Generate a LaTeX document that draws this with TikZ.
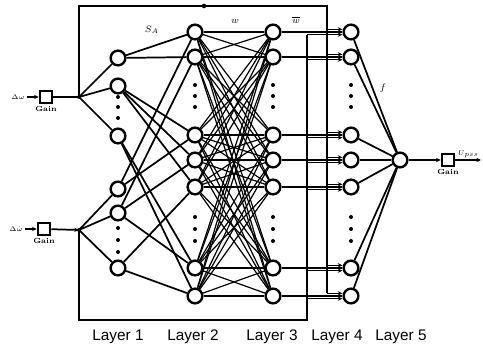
\documentclass[tikz,border=0pt]{standalone}
\usepackage{fontspec}
\setsansfont{Liberation Sans}
\usetikzlibrary{arrows.meta}
\begin{document}
\begin{tikzpicture}[x = 0.75pt, y = -0.75pt, line width = 1.3pt, >= {Stealth[length = 3.5pt, width = 3.2pt]},
    neuron/.style = {circle, draw, line width = 1.8pt, fill = white, minimum size = 11pt, inner sep = 0pt},
    gainbox/.style = {draw, line width = 1.4pt, fill = white, minimum size = 9.5pt, inner sep = 0pt},
    tag/.style = {font = \fontsize{5.5}{6}\selectfont\bfseries, inner sep = 1pt},
    wlab/.style = {font = \scriptsize, inner sep = 0pt},
    layerlab/.style = {font = \sffamily\fontsize{11.5}{13}\selectfont}]
\useasboundingbox (0,0) rectangle (483,352);
% inputs and gains
\coordinate (in1) at (27,97);
\coordinate (in2) at (25,229);
\node[gainbox] at (46,97) (g1) {};
\node[gainbox] at (44,229) (g2) {};
\node[tag, anchor = east] at (in1) {$\Delta\omega$};
\node[tag, anchor = east] at (in2) {$\Delta\dot{\omega}$};
\node[tag, anchor = north] at (g1.south) {Gain};
\node[tag, anchor = north] at (g2.south) {Gain};
\coordinate (j1) at (79,97);
\coordinate (j2) at (79,230);
\fill (j1) circle (1.5pt);
\fill (j2) circle (1.5pt);
\draw[->] (in1) -- (g1);
\draw[->] (in2) -- (g2);
\draw (g1) -- (j1);
\draw[->] (g2) -- (j2);
% layer 1
\node[neuron] at (118,58) (a1) {};
\node[neuron] at (118,86) (a2) {};
\node[neuron] at (118,136) (a3) {};
\node[neuron] at (118,189) (b1) {};
\node[neuron] at (118,213) (b2) {};
\node[neuron] at (118,268) (b3) {};
% layer 2
\node[neuron] at (195,32) (p1) {};
\node[neuron] at (195,57) (p2) {};
\node[neuron] at (195,135) (p3) {};
\node[neuron] at (195,160) (p4) {};
\node[neuron] at (195,187) (p5) {};
\node[neuron] at (195,268) (p6) {};
\node[neuron] at (195,296) (p7) {};
% layer 3
\node[neuron] at (273,32) (q1) {};
\node[neuron] at (273,57) (q2) {};
\node[neuron] at (273,135) (q3) {};
\node[neuron] at (273,160) (q4) {};
\node[neuron] at (273,187) (q5) {};
\node[neuron] at (273,268) (q6) {};
\node[neuron] at (273,296) (q7) {};
% layer 4
\node[neuron] at (351,32) (s1) {};
\node[neuron] at (351,57) (s2) {};
\node[neuron] at (351,135) (s3) {};
\node[neuron] at (351,160) (s4) {};
\node[neuron] at (351,187) (s5) {};
\node[neuron] at (351,268) (s6) {};
\node[neuron] at (351,296) (s7) {};
% layer 5 and output
\node[neuron] at (400,160) (o) {};
\node[gainbox] at (448,160) (g3) {};
\node[tag, anchor = north] at (g3.south) {Gain};
\coordinate (out) at (481,160);
\node[tag, anchor = south east] at (out) {$U_{pss}$};
\draw[->] (o) -- (g3);
\draw[->] (g3) -- (out);
% vertical dots
\foreach \y in {97,107,118,228,240,252} \fill (118,\y) circle (1.5pt);
\foreach \x in {195,273,351}
  \foreach \y in {85,96,107,217,229,241} \fill (\x,\y) circle (1.5pt);
% bypass lines to layer 4
\coordinate (tb) at (327,6);
\coordinate (bb) at (307,320);
\draw (j1) -- (j1 |- tb) -- (tb) -- ([yshift = 2pt]s7.west -| tb);
\draw (j2) -- (j2 |- bb) -- (bb) -- ([yshift = -2pt]s1.west -| bb);
\fill (204,6) circle (1.7pt);
\foreach \k in {1,...,7} {
  \draw[->, line width = 1pt] ([yshift = 2pt]s\k.west -| tb) -- ([yshift = 2pt]s\k.west);
  \draw[->, line width = 1pt] ([yshift = -2pt]s\k.west -| bb) -- ([yshift = -2pt]s\k.west);
}
% connections
\draw (j1) -- (a1);
\draw (j1) -- (a2);
\draw (j1) -- (a3);
\draw (j2) -- (b1);
\draw (j2) -- (b2);
\draw (j2) -- (b3);
\draw (a1) -- (p1);
\draw (a1) -- (p2);
\draw (a2) -- (p3);
\draw (a2) -- (p4);
\draw (a2) -- (p5);
\draw (a3) -- (p6);
\draw (a3) -- (p7);
\draw (b1) -- (p1);
\draw (b1) -- (p3);
\draw (b2) -- (p2);
\draw (b2) -- (p4);
\draw (b2) -- (p6);
\draw (b3) -- (p5);
\draw (b3) -- (p7);
\foreach \i in {1,...,7}
  \foreach \j in {1,...,7} \draw[line width = 0.9pt] (p\i) -- (q\j);
\foreach \k in {1,...,7} {
  \draw (q\k) -- (s\k);
  \draw (s\k) -- (o);
}
% weight labels
\node[wlab] at (152,30) {$S_A$};
\node[wlab] at (235,21) {$w$};
\node[wlab] at (296,20) {$\overline{w}$};
\node[wlab] at (383,88) {$f$};
% layer labels
\node[layerlab] at (118,337) (l1) {Layer 1};
\node[layerlab] at (193,337) (l2) {Layer 2};
\node[layerlab] at (272,337) (l3) {Layer 3};
\node[layerlab] at (337,337) (l4) {Layer 4};
\node[layerlab] at (401,337) (l5) {Layer 5};
\end{tikzpicture}
\end{document}
